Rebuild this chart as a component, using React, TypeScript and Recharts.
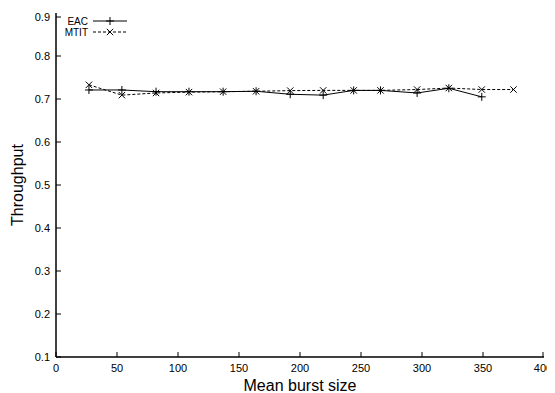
import React from 'react';
import { LineChart, Line, XAxis, YAxis, Legend } from 'recharts';

const burstSizes = [27, 54, 82, 109, 137, 164, 192, 219, 244, 266, 296, 322, 349, 375];
const eacThroughput = [0.721, 0.721, 0.717, 0.717, 0.717, 0.718, 0.711, 0.709, 0.72, 0.72, 0.714, 0.725, 0.705];
const mtitThroughput = [0.733, 0.709, 0.714, 0.716, 0.717, 0.718, 0.7195, 0.72, 0.72, 0.72, 0.722, 0.7255, 0.722, 0.722];
const xTicks = [0, 50, 100, 150, 200, 250, 300, 350, 400];
const yTicks = [0.1, 0.2, 0.3, 0.4, 0.5, 0.6, 0.7, 0.8, 0.9];
const seriesNames = ['EAC', 'MTIT'];

const eacData = eacThroughput.map((v, i) => ({ size: burstSizes[i], value: v }));
const mtitData = mtitThroughput.map((v, i) => ({ size: burstSizes[i], value: v }));

const FONT = '"Liberation Sans", Arial, Helvetica, sans-serif';
const TICK = 5;
const XM = 7;
const YM = 6;

const PlusDot = (props: any) => {
  const { cx, cy, index } = props;
  if (cx == null || cy == null) return <g key={`p${index}`} />;
  return (
    <path key={`p${index}`} d={`M${cx - 4},${cy}H${cx + 4}M${cx},${cy - 4}V${cy + 4}`} stroke="#000" strokeWidth={1} fill="none" />
  );
};

const CrossDot = (props: any) => {
  const { cx, cy, index } = props;
  if (cx == null || cy == null) return <g key={`x${index}`} />;
  const d = 3.2;
  return (
    <path key={`x${index}`} d={`M${cx - d},${cy - d}L${cx + d},${cy + d}M${cx + d},${cy - d}L${cx - d},${cy + d}`} stroke="#000" strokeWidth={1} fill="none" />
  );
};

const BottomTick = (props: any) => {
  const { x, y, payload } = props;
  const ay = y - XM;
  return (
    <g>
      <line x1={x} x2={x} y1={ay} y2={ay - TICK} stroke="#000" strokeWidth={1} />
      <text x={x} y={y} dy="0.71em" textAnchor="middle" fontSize={11} fill="#000" fontFamily={FONT}>
        {payload.value}
      </text>
    </g>
  );
};

const LeftTick = (props: any) => {
  const { x, y, payload } = props;
  const ax = x + YM;
  return (
    <g>
      <line x1={ax} x2={ax + TICK} y1={y} y2={y} stroke="#000" strokeWidth={1} />
      <text x={x} y={y} dy="0.355em" textAnchor="end" fontSize={11} fill="#000" fontFamily={FONT}>
        {Number(payload.value).toFixed(1)}
      </text>
    </g>
  );
};

const TopTick = (props: any) => {
  const { x, y } = props;
  return <line x1={x} x2={x} y1={y} y2={y + TICK} stroke="#000" strokeWidth={1} />;
};

const RightTick = (props: any) => {
  const { x, y } = props;
  return <line x1={x} x2={x - TICK} y1={y} y2={y} stroke="#000" strokeWidth={1} />;
};

const LegendContent = () => {
  return (
    <svg width={140} height={40} style={{ display: 'block' }}>
      {seriesNames.map((name, i) => {
        const cy = 13 + i * 11;
        const x1 = 85;
        const x2 = 119;
        const mid = (x1 + x2) / 2;
        return (
          <g key={name}>
            <text x={80} y={cy} dy="0.355em" textAnchor="end" fontSize={10} fill="#000" fontFamily={FONT}>
              {name}
            </text>
            <line x1={x1} x2={x2} y1={cy} y2={cy} stroke="#000" strokeWidth={1} strokeDasharray={i === 1 ? '3 2' : undefined} />
            {i === 0 ? <PlusDot cx={mid} cy={cy} index={0} /> : <CrossDot cx={mid} cy={cy} index={0} />}
          </g>
        );
      })}
    </svg>
  );
};

export default function App() {
  return (
    <div style={{ width: 547, height: 385, fontFamily: FONT, background: '#fff' }}>
      <LineChart width={547} height={385} margin={{ top: 5, right: 11, left: 0, bottom: 0 }}>
        <XAxis
          dataKey="size"
          type="number"
          domain={[0, 400]}
          ticks={xTicks}
          height={36}
          allowDataOverflow
          tickSize={0}
          tickMargin={XM}
          tickLine={false}
          tick={<BottomTick />}
          axisLine={{ stroke: '#000', strokeWidth: 1.5 }}
          label={{ value: 'Mean burst size', position: 'insideBottom', offset: 2, style: { fontSize: 16, fill: '#000', fontFamily: FONT } }}
        />
        <XAxis
          xAxisId="top"
          orientation="top"
          dataKey="size"
          type="number"
          domain={[0, 400]}
          ticks={xTicks}
          height={0}
          tickSize={0}
          tickMargin={0}
          tickLine={false}
          tick={<TopTick />}
          axisLine={{ stroke: '#000', strokeWidth: 1.5 }}
        />
        <YAxis
          type="number"
          domain={[0.1, 0.9]}
          ticks={yTicks}
          width={48}
          allowDataOverflow
          tickSize={0}
          tickMargin={YM}
          tickLine={false}
          tick={<LeftTick />}
          axisLine={{ stroke: '#000', strokeWidth: 1.5 }}
          label={{ value: 'Throughput', angle: -90, position: 'insideLeft', offset: 9, style: { textAnchor: 'middle', fontSize: 16, fill: '#000', fontFamily: FONT } }}
        />
        <YAxis
          yAxisId="right"
          orientation="right"
          type="number"
          domain={[0.1, 0.9]}
          ticks={yTicks}
          width={0}
          tickSize={0}
          tickMargin={0}
          tickLine={false}
          tick={<RightTick />}
          axisLine={{ stroke: '#000', strokeWidth: 1.5 }}
        />
        <Legend
          layout="vertical"
          align="center"
          verticalAlign="middle"
          content={<LegendContent />}
          wrapperStyle={{ position: 'absolute', top: 0, left: 0, width: 140, height: 40 }}
        />
        <Line
          data={eacData}
          dataKey="value"
          name="EAC"
          stroke="#000"
          strokeWidth={1}
          dot={PlusDot}
          activeDot={false}
          isAnimationActive={false}
        />
        <Line
          data={mtitData}
          dataKey="value"
          name="MTIT"
          stroke="#000"
          strokeWidth={1}
          strokeDasharray="3 2"
          dot={CrossDot}
          activeDot={false}
          isAnimationActive={false}
        />
      </LineChart>
    </div>
  );
}
